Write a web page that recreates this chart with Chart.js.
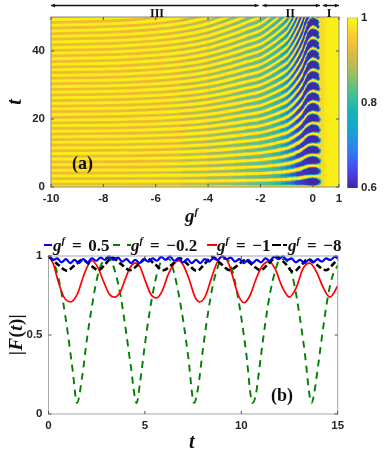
<!DOCTYPE html>
<html>
<head>
<meta charset="utf-8">
<title>Echo map and |F(t)| curves</title>
<script src="https://cdn.jsdelivr.net/npm/chart.js@4"></script>
<style>
  html, body { margin: 0; background: #fff; }
  #page { position: relative; width: 390px; height: 456px; overflow: hidden; filter: blur(0.35px); }
  canvas { position: absolute; }
  .lab { position: absolute; white-space: pre; color: #111; font: bold 16px "Liberation Serif", serif; line-height: 1; }
  .lab i sup, .lab sup { font-size: 11px; line-height: 0; font-style: italic; }
  .leg { font-size: 17px; word-spacing: 2.5px; }
  .swatch { position: absolute; height: 2px; }
</style>
</head>
<body>
<div id="page">
  <canvas id="map" width="390" height="208" style="left:0;top:0"></canvas>
  <canvas id="bar" width="50" height="208" style="left:340px;top:0"></canvas>
  <canvas id="curves" width="390" height="226" style="left:0;top:230px"></canvas>

  <div class="lab" style="left:150px;top:7px;font-size:12px">III</div>
  <div class="lab" style="left:285.5px;top:7px;font-size:12px">II</div>
  <div class="lab" style="left:326.7px;top:7px;font-size:12px">I</div>
  <div class="lab" style="left:72px;top:154px;font-size:18px">(a)</div>
  <div class="lab" style="left:271px;top:386px;font-size:18px">(b)</div>
  <div class="lab" style="left:185px;top:206px;font-size:19px"><i>g<sup>f</sup></i></div>
  <div class="lab" style="left:11px;top:92px;font-size:20px;transform:rotate(-90deg)"><i>t</i></div>
  <div class="lab" style="left:189px;top:431px;font-size:20px"><i>t</i></div>
  <div class="lab" style="left:-25px;top:325px;width:80px;text-align:center;font-size:19px;letter-spacing:0.4px;transform:rotate(-90deg)">|<i>F</i>(<i>t</i>)|</div>

  <div class="swatch" style="left:44px;top:244px;width:8px;background:#0000ff"></div>
  <div class="lab leg" style="left:53px;top:237px"><i>g<sup>f</sup></i> = 0.5</div>
  <div class="swatch" style="left:113px;top:244px;width:7px;background:#007f00"></div>
  <div class="swatch" style="left:127px;top:244px;width:4px;background:#007f00"></div>
  <div class="lab leg" style="left:131px;top:237px"><i>g<sup>f</sup></i> = −0.2</div>
  <div class="swatch" style="left:207px;top:244px;width:10px;background:#ff0000"></div>
  <div class="lab leg" style="left:217px;top:237px"><i>g<sup>f</sup></i> = −1</div>
  <div class="swatch" style="left:272px;top:244px;width:9px;background:#000"></div>
  <div class="swatch" style="left:283px;top:244px;width:4px;background:#000"></div>
  <div class="lab leg" style="left:288px;top:237px"><i>g<sup>f</sup></i> = −8</div>
</div>

<script>
// Panel (a): dark bands, one row per band, t at each gColumns entry.
// A row stops at the first value past the top of the plot.
const gColumns = [-10, -7, -5, -4, -3, -2.5, -2, -1.5, -1.2, -1, -0.8, -0.6, -0.4, -0.3, -0.2, -0.1, 0, 0.1, 0.2];
const bandT = [
  [0.82, 0.83, 0.86, 0.89, 0.94, 0.97, 1, 1.06, 1.1, 1.14, 1.2, 1.28, 1.38, 1.45, 1.51, 1.55, 1.57, 1.56, 1.52],
  [2.46, 2.5, 2.58, 2.67, 2.82, 2.91, 3, 3.18, 3.3, 3.4, 3.6, 3.8, 4.1, 4.4, 4.5, 4.7, 4.7, 4.7, 4.6],
  [4.1, 4.16, 4.3, 4.45, 4.7, 4.85, 5, 5.3, 5.5, 5.7, 6, 6.4, 6.9, 7.3, 7.6, 7.8, 7.9, 7.8, 7.6],
  [5.74, 5.83, 6.02, 6.23, 6.58, 6.79, 7, 7.42, 7.7, 8, 8.4, 9, 9.7, 10.2, 10.6, 10.9, 11, 10.9, 10.6],
  [7.38, 7.49, 7.74, 8.01, 8.46, 8.73, 9, 9.54, 9.9, 10.3, 10.8, 11.5, 12.4, 13, 13.6, 14, 14.1, 14, 13.7],
  [9.02, 9.16, 9.46, 9.79, 10.34, 10.67, 11, 11.66, 12.2, 12.5, 13.2, 14.1, 15.2, 16, 16.6, 17, 17.3, 17.2, 16.7],
  [10.66, 10.82, 11.18, 11.57, 12.22, 12.61, 13, 13.78, 14.4, 14.8, 15.6, 16.6, 17.9, 18.9, 19.6, 20.2, 20.4, 20.3, 19.8],
  [12.3, 12.49, 12.9, 13.35, 14.1, 14.55, 15, 15.9, 16.6, 17.1, 18, 19.2, 20.7, 21.8, 22.7, 23.3, 23.6, 23.4, 22.8],
  [13.94, 14.15, 14.62, 15.13, 15.98, 16.49, 17, 18.02, 18.8, 19.4, 20.4, 21.8, 23.5, 24.7, 25.7, 26.4, 26.7, 26.5, 25.8],
  [15.58, 15.82, 16.34, 16.91, 17.86, 18.43, 19, 20.14, 21, 21.7, 22.8, 24.3, 26.2, 27.6, 28.7, 29.5, 29.8, 29.6, 28.9],
  [17.22, 17.48, 18.06, 18.69, 19.74, 20.37, 21, 22.26, 23.2, 23.9, 25.2, 26.9, 29, 30.5, 31.7, 32.6, 33, 32.8, 31.9],
  [18.86, 19.15, 19.78, 20.47, 21.62, 22.31, 23, 24.38, 25.4, 26.2, 27.6, 29.4, 31.7, 33.4, 34.7, 35.7, 36.1, 35.9, 35],
  [20.5, 20.81, 21.5, 22.25, 23.5, 24.25, 25, 26.5, 27.6, 28.5, 30, 32, 34.5, 36.3, 37.8, 38.8, 39.3, 39, 38],
  [22.14, 22.48, 23.22, 24.03, 25.38, 26.19, 27, 28.62, 29.8, 30.8, 32.4, 34.6, 37.3, 39.2, 40.8, 41.9, 42.4, 42.1, 41],
  [23.78, 24.14, 24.94, 25.81, 27.26, 28.13, 29, 30.74, 32, 33.1, 34.8, 37.1, 40, 42.1, 43.8, 45, 45.5, 45.2, 44.1],
  [25.42, 25.81, 26.66, 27.59, 29.14, 30.07, 31, 32.86, 34.3, 35.3, 37.2, 39.7, 42.8, 45, 46.8, 48.1, 48.7, 48.4, 47.1],
  [27.06, 27.47, 28.38, 29.37, 31.02, 32.01, 33, 34.98, 36.5, 37.6, 39.6, 42.2, 45.5, 47.9, 49.8, 51.2, 51.8, 51.5, 50.2],
  [28.7, 29.14, 30.1, 31.15, 32.9, 33.95, 35, 37.1, 38.7, 39.9, 42, 44.8, 48.3, 50.8],
  [30.34, 30.8, 31.82, 32.93, 34.78, 35.89, 37, 39.22, 40.9, 42.2, 44.4, 47.4, 51.1],
  [31.98, 32.47, 33.54, 34.71, 36.66, 37.83, 39, 41.34, 43.1, 44.5, 46.8, 49.9, 53.8],
  [33.62, 34.13, 35.26, 36.49, 38.54, 39.77, 41, 43.46, 45.3, 46.7, 49.2, 52.5],
  [35.26, 35.8, 36.98, 38.27, 40.42, 41.71, 43, 45.58, 47.5, 49, 51.6],
  [36.9, 37.46, 38.7, 40.05, 42.3, 43.65, 45, 47.7, 49.7, 51.3],
  [38.54, 39.13, 40.42, 41.83, 44.18, 45.59, 47, 49.82, 51.9],
  [40.18, 40.79, 42.14, 43.61, 46.06, 47.53, 49, 51.94],
  [41.82, 42.46, 43.86, 45.39, 47.94, 49.47, 51],
  [43.46, 44.12, 45.58, 47.17, 49.82, 51.41],
  [45.1, 45.79, 47.3, 48.95, 51.7],
  [46.74, 47.45, 49.02, 50.73],
  [48.38, 49.12, 50.74],
  [50.02, 50.78]
];
const mapXTicks = [-10, -8, -6, -4, -2, 0, 1];
const mapYTicks = [0, 20, 40];
const regions = [[-10, -2.07], [-1.92, 0.27], [0.38, 1]];

// Colour bar
const barRange = [0.6, 1];
const barTicks = [0.6, 0.8, 1];
const parula = ["#3e26a8", "#4a48ee", "#2e80f0", "#1aa0d8", "#10b5b8", "#48c08c", "#98bf62", "#d8ba48", "#fbc832", "#f9fb15"];

// Panel (b)
const blueT = [0, 0.225, 0.45, 0.675, 0.9, 1.125, 1.35, 1.575, 1.8, 2.025, 2.25, 2.475, 2.7, 2.925, 3.15, 3.375, 3.6, 3.825, 4.05, 4.275, 4.5, 4.725, 4.95, 5.175, 5.4, 5.625, 5.85, 6.075, 6.3, 6.525, 6.75, 6.975, 7.2, 7.425, 7.65, 7.875, 8.1, 8.325, 8.55, 8.775, 9, 9.225, 9.45, 9.675, 9.9, 10.125, 10.35, 10.575, 10.8, 11.025, 11.25, 11.475, 11.7, 11.925, 12.15, 12.375, 12.6, 12.825, 13.05, 13.275, 13.5, 13.725, 13.95, 14.175, 14.4, 14.625, 14.85, 15];
const blueF = [1, 0.975, 0.985, 0.96, 0.98, 0.955, 0.975, 0.955, 0.98, 0.96, 0.985, 0.97, 0.99, 0.975, 0.998, 0.975, 0.99, 0.965, 0.98, 0.955, 0.975, 0.955, 0.98, 0.965, 0.985, 0.97, 0.995, 0.975, 0.998, 0.97, 0.985, 0.96, 0.98, 0.955, 0.975, 0.955, 0.98, 0.965, 0.985, 0.975, 0.998, 0.98, 0.99, 0.965, 0.98, 0.955, 0.975, 0.955, 0.975, 0.96, 0.985, 0.97, 0.995, 0.98, 0.998, 0.975, 0.985, 0.96, 0.975, 0.955, 0.975, 0.96, 0.98, 0.965, 0.985, 0.975, 0.995, 0.985];
const greenT = [0, 0.25, 0.5, 0.75, 1, 1.25, 1.48, 1.75, 2, 2.25, 2.5, 2.75, 3, 3.25, 3.5, 3.75, 4, 4.25, 4.57, 4.75, 5, 5.25, 5.5, 5.75, 6, 6.25, 6.5, 6.75, 7, 7.25, 7.55, 7.75, 8, 8.25, 8.5, 8.75, 9, 9.25, 9.5, 9.75, 10, 10.25, 10.58, 10.75, 11, 11.25, 11.5, 11.75, 12, 12.25, 12.5, 12.75, 13, 13.25, 13.65, 13.75, 14, 14.25, 14.5, 14.75, 15];
const greenF = [1, 0.967, 0.869, 0.714, 0.512, 0.28, 0.07, 0.24, 0.48, 0.68, 0.85, 0.95, 0.99, 0.97, 0.88, 0.74, 0.54, 0.32, 0.07, 0.2, 0.44, 0.65, 0.82, 0.94, 0.98, 0.98, 0.9, 0.76, 0.58, 0.36, 0.07, 0.16, 0.4, 0.62, 0.8, 0.92, 0.98, 0.98, 0.92, 0.79, 0.61, 0.39, 0.07, 0.12, 0.35, 0.58, 0.77, 0.9, 0.98, 0.98, 0.93, 0.82, 0.64, 0.43, 0.07, 0.11, 0.32, 0.55, 0.75, 0.88, 0.94];
const redT = [0, 0.25, 0.5, 0.8, 1.15, 1.5, 1.75, 2, 2.25, 2.55, 2.85, 3.15, 3.45, 3.75, 4, 4.25, 4.5, 4.75, 5, 5.3, 5.6, 5.9, 6.2, 6.5, 6.75, 7, 7.3, 7.6, 7.85, 8.15, 8.45, 8.75, 9.05, 9.35, 9.6, 9.85, 10.15, 10.45, 10.75, 11.1, 11.45, 11.75, 12.1, 12.5, 12.85, 13.2, 13.55, 13.9, 14.25, 14.6, 15];
const redF = [1, 0.95, 0.84, 0.74, 0.71, 0.76, 0.85, 0.93, 0.97, 0.93, 0.84, 0.76, 0.74, 0.78, 0.86, 0.93, 0.955, 0.93, 0.85, 0.76, 0.735, 0.78, 0.88, 0.95, 0.97, 0.94, 0.85, 0.74, 0.71, 0.75, 0.86, 0.96, 1, 0.95, 0.85, 0.75, 0.705, 0.75, 0.85, 0.94, 0.965, 0.92, 0.81, 0.74, 0.8, 0.92, 0.955, 0.9, 0.8, 0.74, 0.81];
const blackT = [0, 0.5, 0.95, 1.35, 1.77, 2.15, 2.6, 2.95, 3.3, 3.75, 4.23, 4.65, 5.09, 5.5, 5.95, 6.4, 6.8, 7.25, 7.7, 8.1, 8.5, 8.95, 9.4, 9.8, 10.2, 10.6, 11, 11.4, 11.85, 12.3, 12.7, 13.1, 13.45, 13.9, 14.4, 14.7, 15];
const blackF = [1, 0.945, 0.907, 0.94, 0.975, 0.945, 0.91, 0.95, 0.99, 0.95, 0.91, 0.945, 0.985, 0.95, 0.91, 0.945, 0.985, 0.945, 0.905, 0.95, 0.995, 0.95, 0.91, 0.94, 0.975, 0.94, 0.91, 0.95, 0.995, 0.95, 0.9, 0.94, 0.98, 0.945, 0.91, 0.94, 0.98];
const curveXTicks = [0, 5, 10, 15];
const curveYTicks = [0, 0.5, 1];

// Band look across g: [g, thickness in px measured along t, colour]
const haloStyle = [[-10, 2.7, "#f3bc30"], [-5, 3, "#f3bc30"], [-3, 3.6, "#f3bc30"], [-2, 4.4, "#f3bc32"], [-1, 5.4, "#f4bd33"], [-0.4, 7, "#f4bd33"], [0, 9.4, "#f6c234"], [0.1, 9, "#f6c234"], [0.2, 7, "#f8cc34"]];
const midStyle = [[-10, 0.5, "#eab93a"], [-6, 1, "#d8bb4c"], [-5, 1.4, "#b8bb58"], [-4, 1.9, "#a2bd62"], [-3, 2.5, "#7fbf7a"], [-2, 3.2, "#5cbd90"], [-1.5, 3.6, "#42bb9e"], [-1, 4.1, "#22b4ae"], [-0.6, 4.8, "#14a9c4"], [-0.3, 6, "#0ea3ce"], [0, 8.4, "#11a5c8"], [0.1, 7.8, "#11a5c8"], [0.2, 5.5, "#20b0b8"]];
const coreStyle = [[-1.4, 0.01, "#1d85dc"], [-1, 1.4, "#1c7fe0"], [-0.75, 2.6, "#2e5fe0"], [-0.6, 3.6, "#3b3fd0"], [-0.3, 5, "#4030b8"], [-0.1, 6.2, "#3f2aa6"], [0, 7, "#3f2aa6"], [0.1, 6, "#3f2aa6"], [0.17, 3, "#3f2aa6"], [0.2, 0.01, "#3f2aa6"]];

const tickFont = { family: "'Liberation Sans', sans-serif", size: 11.5, weight: "bold" };
const tickColor = "#262626";
const quietGrid = { display: false, drawTicks: false };

function styleWidth(table, g) {
  if (g <= table[0][0]) return table[0][1];
  for (let i = 1; i < table.length; i++) {
    if (g <= table[i][0]) {
      const a = table[i - 1], b = table[i];
      return a[1] + (b[1] - a[1]) * (g - a[0]) / (b[0] - a[0]);
    }
  }
  return table[table.length - 1][1];
}

function styleGradient(chart, table) {
  const x = chart.scales.x;
  const grad = chart.ctx.createLinearGradient(x.getPixelForValue(-10), 0, x.getPixelForValue(1), 0);
  table.forEach(s => grad.addColorStop((s[0] + 10) / 11, s[2]));
  return grad;
}

function bandDataset(row, table) {
  return {
    data: row.map((t, i) => ({ x: gColumns[i], y: t })),
    showLine: true,
    pointRadius: 0,
    clip: 0,
    cubicInterpolationMode: "monotone",
    borderCapStyle: "round",
    borderWidth: 2,
    borderColor: c => c.chart.chartArea ? styleGradient(c.chart, table) : "#f1b434",
    segment: {
      // thickness is along t, so a steep band gets thinner across its own direction
      borderWidth: c => {
        const dx = c.p1.x - c.p0.x, dy = c.p1.y - c.p0.y;
        const g = (c.p0.parsed.x + c.p1.parsed.x) / 2;
        return Math.max(0.01, styleWidth(table, g) * dx / Math.hypot(dx, dy));
      }
    }
  };
}

function edgeBand(g, width, color) {
  return { data: [{ x: g, y: 0 }, { x: g, y: 50 }], showLine: true, pointRadius: 0, clip: 0, borderWidth: width, borderColor: color };
}

function fixedTicks(list) {
  return scale => { scale.ticks = list.map(v => ({ value: v })); };
}

// MATLAB style frame with ticks pointing inwards on all four sides
const framePlugin = {
  id: "frame",
  beforeDatasetsDraw(chart, args, opts) {
    if (!opts.fill) return;
    const a = chart.chartArea;
    chart.ctx.fillStyle = opts.fill;
    chart.ctx.fillRect(a.left, a.top, a.width, a.height);
  },
  afterDraw(chart, args, opts) {
    const ctx = chart.ctx, a = chart.chartArea;
    ctx.save();
    ctx.strokeStyle = opts.color;
    ctx.lineWidth = 1;
    ctx.strokeRect(a.left, a.top, a.width, a.height);
    ctx.strokeStyle = "#555";
    ctx.beginPath();
    chart.scales.x.ticks.forEach(t => {
      const x = chart.scales.x.getPixelForValue(t.value);
      ctx.moveTo(x, a.bottom); ctx.lineTo(x, a.bottom - 3);
      ctx.moveTo(x, a.top); ctx.lineTo(x, a.top + 3);
    });
    chart.scales.y.ticks.forEach(t => {
      const y = chart.scales.y.getPixelForValue(t.value);
      ctx.moveTo(a.left, y); ctx.lineTo(a.left + 3, y);
      ctx.moveTo(a.right, y); ctx.lineTo(a.right - 3, y);
    });
    ctx.stroke();
    ctx.restore();
  }
};

// Double headed arrows above panel (a), placed with the g scale
const regionArrows = {
  id: "regionArrows",
  afterDraw(chart) {
    const ctx = chart.ctx, y = 5.5;
    ctx.save();
    ctx.strokeStyle = "#111";
    ctx.fillStyle = "#111";
    ctx.lineWidth = 1.4;
    regions.forEach(r => {
      const x0 = chart.scales.x.getPixelForValue(r[0]);
      const x1 = chart.scales.x.getPixelForValue(r[1]);
      ctx.beginPath();
      ctx.moveTo(x0, y); ctx.lineTo(x1, y);
      ctx.stroke();
      ctx.beginPath();
      ctx.moveTo(x0, y); ctx.lineTo(x0 + 4, y - 1.8); ctx.lineTo(x0 + 4, y + 1.8); ctx.closePath();
      ctx.moveTo(x1, y); ctx.lineTo(x1 - 4, y - 1.8); ctx.lineTo(x1 - 4, y + 1.8); ctx.closePath();
      ctx.fill();
    });
    ctx.restore();
  }
};

function init() {
  const mapSets = [];
  bandT.forEach(row => mapSets.push(bandDataset(row, coreStyle)));
  bandT.forEach(row => mapSets.push(bandDataset(row, midStyle)));
  bandT.forEach(row => mapSets.push(bandDataset(row, haloStyle)));
  mapSets.push(edgeBand(0.34, 5, "rgba(246, 205, 50, 0.55)"));
  mapSets.push(edgeBand(0.42, 7, "rgba(248, 222, 40, 0.4)"));

  new Chart(document.getElementById("map"), {
    type: "scatter",
    data: { datasets: mapSets },
    plugins: [framePlugin, regionArrows],
    options: {
      responsive: false,
      animation: false,
      layout: { padding: { top: 17, right: 51 } },
      plugins: { legend: { display: false }, tooltip: { enabled: false }, frame: { fill: "#f9ee18", color: "#8a8a8a" } },
      scales: {
        x: {
          type: "linear", min: -10, max: 1,
          grid: quietGrid, border: { display: false },
          afterBuildTicks: fixedTicks(mapXTicks),
          afterFit: s => { s.height = 21; },
          ticks: { font: tickFont, color: tickColor, padding: 5, maxRotation: 0, autoSkip: false, callback: v => String(v) }
        },
        y: {
          min: 0, max: 50,
          grid: quietGrid, border: { display: false },
          afterBuildTicks: fixedTicks(mapYTicks),
          afterFit: s => { s.width = 51; },
          ticks: { font: tickFont, color: tickColor, padding: 6, autoSkip: false, callback: v => String(v) }
        }
      }
    }
  });

  new Chart(document.getElementById("bar"), {
    type: "bar",
    data: {
      labels: ["level"],
      datasets: [{
        data: [barRange],
        barPercentage: 1,
        categoryPercentage: 1,
        borderWidth: 1,
        borderColor: "#8a8a8a",
        backgroundColor: c => {
          const a = c.chart.chartArea;
          if (!a) return parula[0];
          const grad = c.chart.ctx.createLinearGradient(0, a.bottom, 0, a.top);
          parula.forEach((col, i) => grad.addColorStop(i / (parula.length - 1), col));
          return grad;
        }
      }]
    },
    options: {
      responsive: false,
      animation: false,
      layout: { padding: { top: 17.5, bottom: 20, left: 7 } },
      plugins: { legend: { display: false }, tooltip: { enabled: false } },
      scales: {
        x: { display: false },
        y: {
          position: "right", min: 0.6, max: 1,
          grid: quietGrid, border: { display: false },
          afterBuildTicks: fixedTicks(barTicks),
          afterFit: s => { s.width = 32; },
          ticks: { font: tickFont, color: tickColor, padding: 3, autoSkip: false, callback: v => String(v) }
        }
      }
    }
  });

  const toPoints = (xs, ys) => xs.map((x, i) => ({ x: x, y: ys[i] }));
  new Chart(document.getElementById("curves"), {
    type: "scatter",
    data: {
      datasets: [
        { label: "g^f = 0.5", data: toPoints(blueT, blueF), borderColor: "#0000ff", borderWidth: 2.2 },
        { label: "g^f = -8", data: toPoints(blackT, blackF), borderColor: "#000", borderWidth: 2.6, borderDash: [6, 3] },
        { label: "g^f = -1", data: toPoints(redT, redF), borderColor: "#ff0000", borderWidth: 1.7 },
        { label: "g^f = -0.2", data: toPoints(greenT, greenF), borderColor: "#007f00", borderWidth: 1.9, borderDash: [7, 5.5] }
      ].map(d => Object.assign({ showLine: true, pointRadius: 0, clip: false, cubicInterpolationMode: "monotone" }, d))
    },
    plugins: [framePlugin],
    options: {
      responsive: false,
      animation: false,
      layout: { padding: { top: 26, right: 52.3 } },
      plugins: { legend: { display: false }, tooltip: { enabled: false }, frame: { color: "#a8a8a8" } },
      scales: {
        x: {
          type: "linear", min: 0, max: 15,
          grid: quietGrid, border: { display: false },
          afterBuildTicks: fixedTicks(curveXTicks),
          afterFit: s => { s.height = 42; },
          ticks: { font: tickFont, color: tickColor, padding: 5, maxRotation: 0, autoSkip: false, callback: v => String(v) }
        },
        y: {
          min: 0, max: 1,
          grid: quietGrid, border: { display: false },
          afterBuildTicks: fixedTicks(curveYTicks),
          afterFit: s => { s.width = 48.5; },
          ticks: { font: tickFont, color: tickColor, padding: 6, autoSkip: false, callback: v => String(v) }
        }
      }
    }
  });
}

init();
</script>
</body>
</html>
